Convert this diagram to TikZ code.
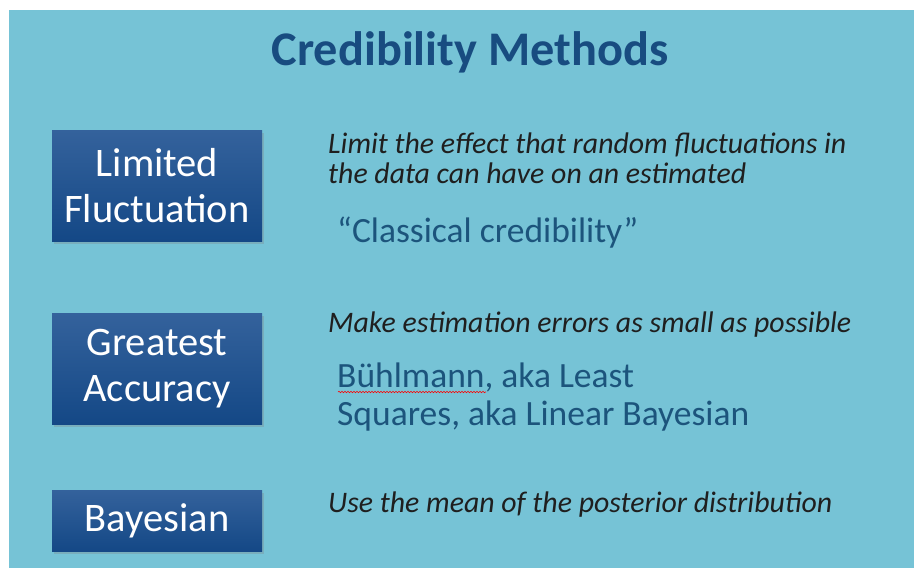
\documentclass[tikz,border=0pt]{standalone}
\usepackage{fontspec}
\setmainfont{Carlito}
\usetikzlibrary{positioning,shadows,decorations.pathmorphing}

\definecolor{slidebg}{RGB}{118,195,214}
\definecolor{boxtop}{RGB}{52,98,156}
\definecolor{boxbot}{RGB}{20,72,134}
\definecolor{titleblue}{RGB}{24,76,128}
\definecolor{aliasblue}{RGB}{28,84,124}

\begin{document}
\begin{tikzpicture}[x=1pt,y=-1pt,
  method/.style={rectangle,inner sep=0pt,minimum width=210pt,
    top color=boxtop,bottom color=boxbot,text=white,align=center,
    font=\fontsize{40.5}{46}\selectfont,
    drop shadow={shadow xshift=2pt,shadow yshift=-3pt,opacity=0.3}},
  aim/.style={anchor=base west,inner sep=0pt,align=left,text=black!88,
    font=\fontsize{29.8}{30}\selectfont\itshape},
  alias/.style={anchor=base west,inner sep=0pt,align=left,text=aliasblue,
    font=\fontsize{35.5}{38}\selectfont}]
\useasboundingbox (0,0) rectangle (914,568);
\fill[white] (0,0) rectangle (914,568);
\fill[slidebg] (9,10) rectangle (914,568);

% title
\node[anchor=base,text=titleblue,font=\fontsize{48.3}{50}\selectfont\bfseries] (title) at (470,65) {Credibility Methods};

% the three methods
\node[method,minimum height=111pt] (limited) at (157,185.5) {Limited\\Fluctuation};
\node[method,minimum height=111pt] (greatest) at (157,368.5) {Greatest\\Accuracy};
\node[method,minimum height=61pt] (bayes) at (157,520.5) {Bayesian};

% what each one does (base = last line)
\node[aim] (limitaim) at (328,183) {Limit the effect that random fluctuations in\\the data can have on an estimated};
\node[alias] (classical) at (337,242) {``Classical credibility''};

\node[aim] (greatestaim) at (328,332) {Make estimation errors as small as possible};
\node[alias] (buhlmann) at (337,425) {Bühlmann, aka Least\\Squares, aka Linear Bayesian};
\draw[red,line width=0.6pt,decorate,decoration={snake,amplitude=0.7pt,segment length=3pt}] (338,392) -- (486,392);

\node[aim] (bayesaim) at (328,512) {Use the mean of the posterior distribution};
\end{tikzpicture}
\end{document}
